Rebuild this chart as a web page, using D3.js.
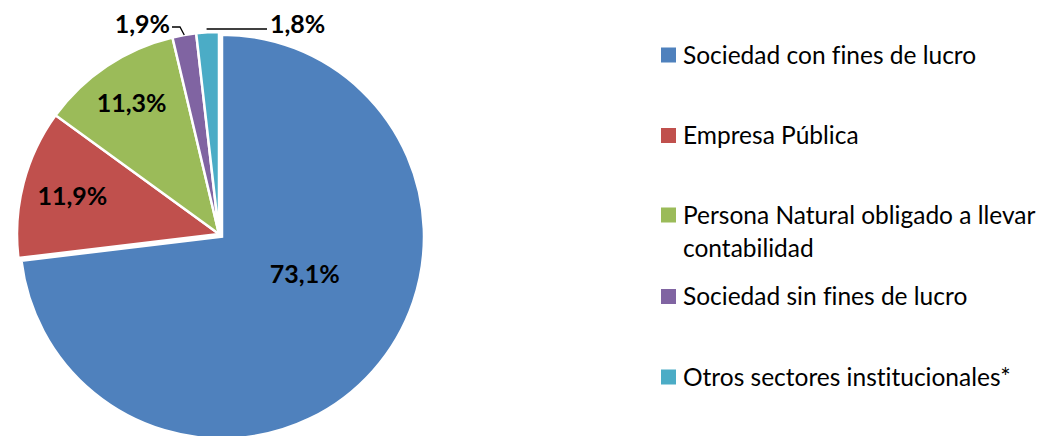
<!DOCTYPE html>
<html>
<head>
<meta charset="utf-8">
<script src="https://cdn.jsdelivr.net/npm/d3@7"></script>
<style>
  body { margin: 0; background: #fff; }
  svg { display: block; font-family: Lato, "Liberation Sans", Arial, sans-serif; font-variant-ligatures: none; }
</style>
</head>
<body>
<div id="chart-area"></div>
<script>
// data
var categories = [
    "Sociedad con fines de lucro",
    "Empresa Pública",
    "Persona Natural obligado a llevar contabilidad",
    "Sociedad sin fines de lucro",
    "Otros sectores institucionales*"
];
var values = [73.1, 11.9, 11.3, 1.9, 1.8];
var valueLabels = ["73,1%", "11,9%", "11,3%", "1,9%", "1,8%"];
var colors = ["#4f81bd", "#c0504d", "#9bbb59", "#8064a2", "#4bacc6"];

var width = 1048, height = 436;
var cx = 219, cy = 234, radius = 202;

var svg = d3.select("#chart-area")
    .append("svg")
    .attr("width", width)
    .attr("height", height);

var pie = d3.pie().sort(null).value(function(d){ return d; });
var arcs = pie(values);

var arc = d3.arc().innerRadius(0).outerRadius(radius);

var g = svg.append("g")
    .attr("transform", "translate(" + cx + ", " + cy + ")");

// the big slice sits a little away from the others
function offset(d, i) {
    if (i != 0) return [0, 0];
    var a = (d.startAngle + d.endAngle) / 2;
    return [Math.sin(a) * 4, -Math.cos(a) * 4];
}

g.selectAll("path")
    .data(arcs)
    .enter()
    .append("path")
    .attr("d", arc)
    .attr("transform", function(d, i){
        var o = offset(d, i);
        return "translate(" + o[0] + "," + o[1] + ")";
    })
    .attr("fill", function(d, i){ return colors[i]; })
    .attr("stroke", "#fff")
    .attr("stroke-width", 2.5);

// labels inside the slices
var inside = [
    { r: 0.45, shift: -0.3 },
    { r: 0.75, shift: 0 },
    { r: 0.78, shift: 0 }
];
inside.forEach(function(p, i){
    var d = arcs[i];
    var a = (d.startAngle + d.endAngle) / 2 + p.shift;
    var o = offset(d, i);
    g.append("text")
        .attr("x", Math.sin(a) * radius * p.r + o[0])
        .attr("y", -Math.cos(a) * radius * p.r + o[1])
        .attr("dy", "0.36em")
        .attr("text-anchor", "middle")
        .attr("font-size", "25px")
        .attr("font-weight", "bold")
        .text(valueLabels[i]);
});

// labels outside, with leader lines, for the two thin slices
function edgePoint(d) {
    var a = (d.startAngle + d.endAngle) / 2;
    return [Math.sin(a) * radius, -Math.cos(a) * radius];
}

var p3 = edgePoint(arcs[3]);
g.append("polyline")
    .attr("points", [[-47, -207], [-39, -207], [p3[0], p3[1]]].map(function(p){ return p.join(","); }).join(" "))
    .attr("fill", "none")
    .attr("stroke", "#000")
    .attr("stroke-width", 1.3);
g.append("text")
    .attr("x", -49)
    .attr("y", -210)
    .attr("dy", "0.36em")
    .attr("text-anchor", "end")
    .attr("font-size", "25px")
    .attr("font-weight", "bold")
    .text(valueLabels[3]);

var p4 = edgePoint(arcs[4]);
g.append("polyline")
    .attr("points", [[p4[0] - 1, -205], [48, -205]].map(function(p){ return p.join(","); }).join(" "))
    .attr("fill", "none")
    .attr("stroke", "#000")
    .attr("stroke-width", 1.3);
g.append("text")
    .attr("x", 51)
    .attr("y", -210)
    .attr("dy", "0.36em")
    .attr("text-anchor", "start")
    .attr("font-size", "25px")
    .attr("font-weight", "bold")
    .text(valueLabels[4]);

// legend
var legendY = d3.scalePoint()
    .domain(categories)
    .range([55, 377]);

var legend = svg.append("g")
    .attr("transform", "translate(661, 0)");

var items = legend.selectAll("g.item")
    .data(categories)
    .enter()
    .append("g")
    .attr("class", "item")
    .attr("transform", function(d, i){
        var y = legendY(d);
        if (i == 2) y = 215;
        return "translate(0, " + y + ")";
    });

items.append("rect")
    .attr("x", 0)
    .attr("y", -7.5)
    .attr("width", 15)
    .attr("height", 15)
    .attr("fill", function(d, i){ return colors[i]; });

items.append("text")
    .attr("x", 22)
    .attr("y", 0)
    .attr("dy", "0.36em")
    .attr("font-size", "24.5px")
    .attr("fill", "#000")
    .each(function(d){
        var t = d3.select(this);
        if (d.indexOf("contabilidad") > -1) {
            t.append("tspan").attr("x", 22).text("Persona Natural obligado a llevar");
            t.append("tspan").attr("x", 22).attr("dy", "1.36em").text("contabilidad");
        } else {
            t.text(d);
        }
    });
</script>
</body>
</html>
